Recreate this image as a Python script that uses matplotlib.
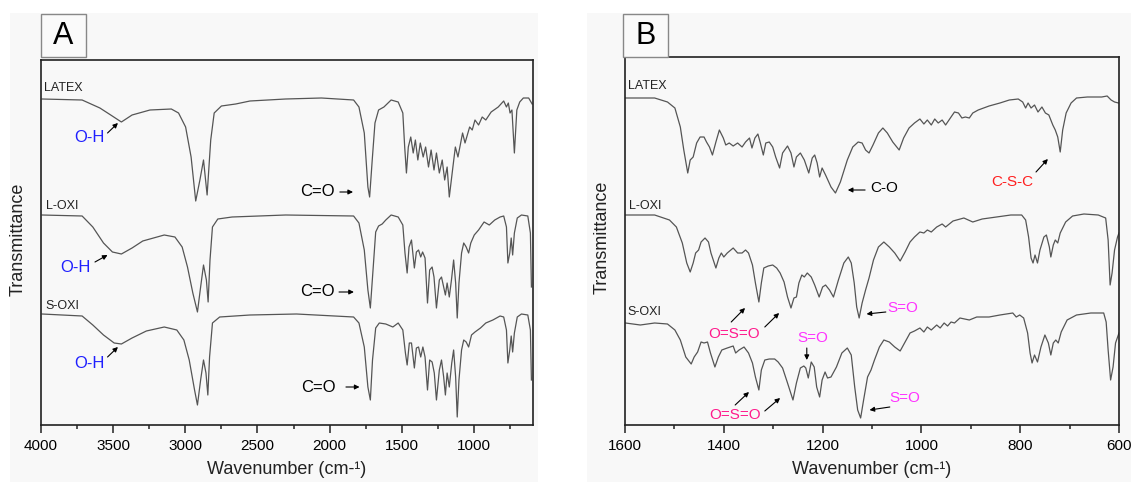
import matplotlib.pyplot as plt
from matplotlib.patches import Rectangle

plt.rcParams['font.family'] = ['Liberation Sans', 'DejaVu Sans']

# ---------------- panel A : full range spectra (wavenumber, transmittance a.u.) -------------
wn_latex_a = [3993, 3715, 3592, 3517, 3443, 3369, 3245, 3097, 3047, 2998, 2960, 2928, 2899, 2874,
              2849, 2824, 2800, 2750, 2651, 2552, 2305, 2057, 1834, 1797, 1760, 1735, 1723, 1705,
              1686, 1661, 1624, 1574, 1525, 1493, 1480, 1468, 1455, 1438, 1421, 1406, 1389, 1372,
              1352, 1335, 1315, 1297, 1277, 1260, 1240, 1220, 1203, 1186, 1171, 1146, 1129, 1111,
              1079, 1062, 1030, 1012, 993, 968, 943, 918, 881, 832, 794, 775, 762, 750, 737, 720,
              703, 683, 658, 621, 597]
t_latex_a = [326, 325, 317, 310, 303, 310, 315, 316, 312, 298, 268, 224, 245, 265,
             230, 285, 312, 319, 321, 324, 326, 327, 325, 318, 292, 238, 228, 265,
             302, 315, 318, 325, 323, 312, 278, 252, 278, 288, 272, 285, 265, 282,
             268, 278, 258, 275, 255, 272, 252, 265, 245, 258, 228, 258, 278, 268,
             292, 282, 298, 295, 305, 300, 308, 305, 313, 318, 324, 318, 322, 312, 315, 272,
             315, 323, 327, 327, 321]

wn_loxi_a = [3993, 3715, 3641, 3567, 3505, 3443, 3369, 3295, 3146, 3072, 3022, 2985, 2948, 2916,
             2894, 2874, 2854, 2842, 2829, 2812, 2775, 2676, 2305, 1834, 1797, 1760, 1735, 1718,
             1698, 1681, 1661, 1636, 1611, 1574, 1525, 1493, 1478, 1463, 1450, 1433, 1413, 1399,
             1384, 1369, 1356, 1339, 1322, 1307, 1290, 1277, 1260, 1240, 1225, 1210, 1198, 1186,
             1171, 1156, 1141, 1127, 1116, 1104, 1086, 1071, 1054, 1037, 1022, 998, 968, 930, 894,
             856, 819, 794, 775, 765, 752, 742, 732, 720, 700, 671, 627, 609, 602]
t_loxi_a = [210, 209, 198, 182, 173, 171, 177, 184, 190, 188, 178, 158, 132, 113,
            138, 160, 145, 123, 165, 198, 206, 208, 210, 209, 202, 175, 135, 117,
            158, 193, 199, 201, 205, 210, 208, 200, 172, 152, 178, 185, 157, 173,
            175, 168, 173, 167, 122, 155, 158, 148, 117, 145, 148, 138, 130, 142,
            128, 145, 165, 142, 107, 142, 172, 182, 178, 172, 182, 190, 195, 203, 200,
            205, 208, 209, 198, 162, 172, 187, 170, 192, 207, 210, 209, 192, 138]

wn_soxi_a = [3993, 3715, 3641, 3567, 3493, 3443, 3369, 3270, 3146, 3059, 3010, 2973, 2936, 2916,
             2894, 2874, 2857, 2844, 2832, 2812, 2762, 2552, 2230, 1834, 1797, 1760, 1735, 1718,
             1703, 1681, 1656, 1611, 1562, 1525, 1493, 1475, 1463, 1448, 1433, 1413, 1399, 1384,
             1369, 1354, 1339, 1322, 1307, 1290, 1275, 1260, 1240, 1225, 1210, 1198, 1186, 1171,
             1154, 1141, 1127, 1116, 1104, 1086, 1071, 1054, 1037, 1017, 993, 955, 918, 869, 819,
             794, 775, 765, 752, 742, 732, 720, 700, 671, 627, 609, 602]
t_soxi_a = [111, 109, 100, 90, 82, 81, 87, 94, 98, 95, 85, 65, 35, 20,
            45, 65, 52, 30, 68, 102, 108, 110, 111, 108, 102, 78, 38, 25,
            65, 97, 102, 101, 98, 102, 95, 72, 60, 82, 82, 57, 77, 78,
            68, 78, 68, 35, 65, 63, 52, 25, 55, 65, 48, 30, 52, 38,
            62, 75, 48, 8, 45, 75, 85, 83, 78, 90, 93, 97, 102, 105, 109,
            108, 95, 62, 75, 89, 73, 92, 108, 111, 110, 95, 45]

# ---------------- panel B : 1600-600 cm-1 -----------------------------------------------------
wn_latex_b = [1599, 1540, 1514, 1499, 1488, 1481, 1473, 1468, 1462, 1455, 1448, 1440, 1435, 1429,
              1423, 1416, 1409, 1401, 1396, 1389, 1381, 1372, 1363, 1356, 1348, 1343, 1337, 1331,
              1326, 1320, 1315, 1308, 1301, 1295, 1287, 1281, 1271, 1264, 1258, 1253, 1245, 1237,
              1228, 1221, 1216, 1211, 1206, 1201, 1194, 1183, 1174, 1164, 1150, 1139, 1128, 1120,
              1113, 1106, 1098, 1087, 1078, 1069, 1058, 1045, 1036, 1025, 1014, 1003, 995, 988,
              980, 973, 966, 958, 951, 940, 933, 925, 918, 911, 903, 896, 885, 863, 841, 822, 804,
              795, 789, 784, 778, 771, 764, 756, 749, 742, 734, 729, 724, 719, 714, 707, 697, 686,
              664, 635, 624, 616, 609, 601]
t_latex_b = [327, 327, 323, 317, 298, 275, 252, 265, 268, 282, 288, 288, 283, 278,
             270, 283, 295, 287, 280, 282, 279, 282, 278, 283, 287, 277, 287, 291,
             282, 270, 282, 283, 278, 268, 257, 272, 279, 272, 258, 268, 272, 265,
             252, 267, 270, 262, 248, 257, 250, 238, 232, 243, 265, 278, 283, 282,
             275, 272, 280, 292, 297, 292, 283, 275, 287, 297, 302, 306, 301, 305,
             300, 306, 302, 305, 300, 308, 313, 312, 307, 308, 307, 312, 315, 319, 322, 325, 326,
             323, 317, 322, 317, 320, 313, 318, 312, 310, 300, 295, 288, 273, 295, 312, 322, 327,
             328, 328, 329, 325, 323, 322]

wn_loxi_b = [1599, 1540, 1510, 1496, 1484, 1475, 1468, 1462, 1457, 1451, 1446, 1438, 1431, 1426,
             1416, 1410, 1405, 1400, 1393, 1381, 1372, 1363, 1356, 1350, 1342, 1336, 1329, 1324,
             1319, 1310, 1301, 1293, 1286, 1278, 1271, 1264, 1258, 1253, 1248, 1242, 1237, 1231,
             1223, 1216, 1207, 1200, 1194, 1186, 1178, 1168, 1157, 1148, 1142, 1136, 1131, 1126,
             1120, 1113, 1106, 1097, 1087, 1076, 1065, 1054, 1043, 1033, 1023, 1014, 1003, 995,
             988, 980, 969, 958, 951, 936, 914, 896, 877, 848, 819, 797, 789, 783, 778, 774, 770,
             765, 760, 752, 747, 741, 738, 733, 729, 724, 719, 708, 694, 671, 642, 627, 622, 618,
             614, 609, 603, 600]
t_loxi_b = [210, 210, 205, 198, 182, 162, 153, 162, 172, 175, 183, 187, 183, 172,
            157, 167, 172, 168, 172, 177, 172, 172, 175, 172, 160, 142, 123, 142,
            157, 159, 160, 157, 152, 143, 128, 117, 127, 128, 142, 150, 148, 152,
            148, 140, 128, 138, 140, 135, 128, 145, 162, 168, 162, 142, 118, 107,
            122, 135, 147, 165, 178, 183, 178, 172, 164, 173, 183, 188, 193, 192,
            195, 193, 198, 201, 198, 204, 207, 203, 206, 208, 210, 210, 205, 188, 167, 162, 170,
            162, 175, 188, 190, 178, 168, 180, 185, 182, 192, 203, 209, 211, 210, 207, 185, 140,
            152, 175, 188, 192]

wn_soxi_b = [1599, 1569, 1540, 1514, 1499, 1488, 1477, 1466, 1460, 1453, 1446, 1440, 1433, 1427,
             1418, 1411, 1404, 1393, 1381, 1376, 1369, 1359, 1350, 1342, 1336, 1329, 1324, 1317,
             1308, 1297, 1290, 1281, 1271, 1260, 1253, 1245, 1238, 1234, 1229, 1223, 1217, 1212,
             1206, 1201, 1195, 1190, 1183, 1172, 1161, 1150, 1142, 1135, 1129, 1123, 1117, 1109,
             1102, 1095, 1085, 1076, 1065, 1054, 1043, 1033, 1023, 1014, 1003, 995, 988, 980, 969,
             962, 954, 947, 940, 933, 922, 903, 888, 863, 841, 815, 808, 801, 793, 785, 780, 776,
             771, 765, 758, 750, 743, 738, 733, 728, 723, 717, 705, 686, 657, 631, 626, 622, 617,
             612, 607, 600]
t_soxi_b = [102, 100, 102, 101, 95, 85, 68, 61, 68, 73, 83, 82, 83, 72,
            58, 68, 75, 77, 79, 72, 75, 78, 72, 62, 48, 35, 55, 65,
            66, 66, 63, 57, 42, 25, 42, 57, 59, 57, 47, 63, 58, 38,
            28, 45, 53, 47, 48, 58, 72, 77, 70, 38, 15, 7, 25, 48,
            55, 65, 78, 85, 83, 78, 74, 83, 92, 94, 97, 93, 98, 95, 100,
            97, 102, 99, 103, 102, 107, 105, 108, 108, 110, 112, 108, 110, 107, 92, 72, 62,
            70, 63, 78, 90, 82, 70, 82, 85, 82, 93, 105, 110, 112, 112, 103, 75, 45,
            58, 82, 92]

line_col = '#555555'
blue = '#1f1fff'
pink = '#ff1a8c'
magenta = '#ff33ff'
red = '#ff2020'

fig = plt.figure(figsize=(11.31, 4.82), dpi=100)
W, H = 1131, 482

# light grey panel backgrounds
fig.patches.append(Rectangle((10 / W, 0), 528 / W, 469 / H, transform=fig.transFigure,
                             facecolor='#f8f8f8', edgecolor='none', zorder=-5))
fig.patches.append(Rectangle((587 / W, 0), 544 / W, 469 / H, transform=fig.transFigure,
                             facecolor='#f8f8f8', edgecolor='none', zorder=-5))

axA = fig.add_axes([41 / W, 57 / H, 492 / W, 365 / H])
axB = fig.add_axes([625 / W, 57 / H, 494 / W, 368 / H])


def style(ax, xlim, ymax, major, minor):
    ax.set_facecolor('#f8f8f8')
    ax.set_xlim(*xlim)
    ax.set_ylim(0, ymax)
    ax.set_xticks(major)
    ax.set_xticks(minor, minor=True)
    ax.set_yticks([])
    for s in ax.spines.values():
        s.set_color('#222222')
        s.set_linewidth(1.2)
    ax.tick_params(axis='x', which='major', direction='out', length=6, width=1.1,
                   labelsize=11, pad=4, color='#222222')
    ax.tick_params(axis='x', which='minor', direction='out', length=3, width=1.1,
                   color='#222222')
    ax.text(0.5, -45 / ymax, 'Wavenumber (cm-¹)', transform=ax.transAxes,
            ha='center', va='center', fontsize=13, color='#222222')


style(axA, (4000, 591), 365, [4000, 3500, 3000, 2500, 2000, 1500, 1000],
      [3750, 3250, 2750, 2250, 1750, 1250, 750])
style(axB, (1600, 600), 368, [1600, 1400, 1200, 1000, 800, 600],
      [1500, 1300, 1100, 900, 700])

axA.text(-23 / 492, 0.51, 'Transmittance', transform=axA.transAxes, rotation=90,
         ha='center', va='center', fontsize=13, color='#222222')
axB.text(-23 / 494, 0.51, 'Transmittance', transform=axB.transAxes, rotation=90,
         ha='center', va='center', fontsize=13, color='#222222')

for wn, t in [(wn_latex_a, t_latex_a), (wn_loxi_a, t_loxi_a), (wn_soxi_a, t_soxi_a)]:
    axA.plot(wn, t, color=line_col, lw=0.9)
for wn, t in [(wn_latex_b, t_latex_b), (wn_loxi_b, t_loxi_b), (wn_soxi_b, t_soxi_b)]:
    axB.plot(wn, t, color=line_col, lw=0.9)

# panel letter boxes
for x0, letter in [(41, 'A'), (623, 'B')]:
    fig.patches.append(Rectangle((x0 / W, (482 - 57) / H), 45 / W, 43 / H,
                                 transform=fig.transFigure, facecolor='#fafafa',
                                 edgecolor='#888888', lw=1.0, zorder=2))
    fig.text((x0 + 22.5) / W, (482 - 36) / H, letter, ha='center', va='center',
             fontsize=22, color='black', zorder=3)

# sample names
for ax, wn, y, name in [(axA, 3979, 337, 'LATEX'), (axA, 3965, 219, 'L-OXI'),
                        (axA, 3972, 119, 'S-OXI'), (axB, 1593, 339, 'LATEX'),
                        (axB, 1592, 219, 'L-OXI'), (axB, 1595, 113, 'S-OXI')]:
    ax.text(wn, y, name, ha='left', va='center', fontsize=9, color='#222222')


def arrow(ax, start, end):
    ax.annotate('', xy=end, xytext=start,
                arrowprops=dict(arrowstyle='-|>', color='black', lw=0.8,
                                mutation_scale=7, shrinkA=0, shrinkB=0))


# panel A labels
for wn, y in [(3667, 287), (3758, 157), (3667, 62)]:
    axA.text(wn, y, 'O-H', color=blue, fontsize=12, ha='center', va='center')
for wn, y in [(2088, 233), (2088, 133), (2081, 38)]:
    axA.text(wn, y, 'C=O', color='black', fontsize=12, ha='center', va='center')
arrow(axA, (3539, 292), (3467, 302))
arrow(axA, (3626, 163), (3539, 170))
arrow(axA, (3539, 68), (3467, 78))
arrow(axA, (1929, 233), (1838, 233))
arrow(axA, (1935, 133), (1832, 133))
arrow(axA, (1887, 38), (1793, 38))

# panel B labels
axB.text(1076, 237, 'C-O', color='black', fontsize=11, ha='center', va='center')
arrow(axB, (1114, 235), (1149, 235))
axB.text(815, 243, 'C-S-C', color=red, fontsize=11, ha='center', va='center')
arrow(axB, (768, 253), (744, 266))

axB.text(1037, 117, 'S=O', color=magenta, fontsize=11, ha='center', va='center')
arrow(axB, (1072, 113), (1111, 111))
axB.text(1219, 87, 'S=O', color=magenta, fontsize=11, ha='center', va='center')
arrow(axB, (1232, 77), (1232, 65))
axB.text(1033, 27, 'S=O', color=magenta, fontsize=11, ha='center', va='center')
arrow(axB, (1064, 18), (1105, 15))

axB.text(1379, 91, 'O=S=O', color=pink, fontsize=11, ha='center', va='center')
arrow(axB, (1385, 103), (1357, 117))
arrow(axB, (1317, 98), (1288, 112))
axB.text(1377, 10, 'O=S=O', color=pink, fontsize=11, ha='center', va='center')
arrow(axB, (1377, 20), (1349, 33))
arrow(axB, (1317, 14), (1286, 27))

fig.savefig('out.png', dpi=100)
